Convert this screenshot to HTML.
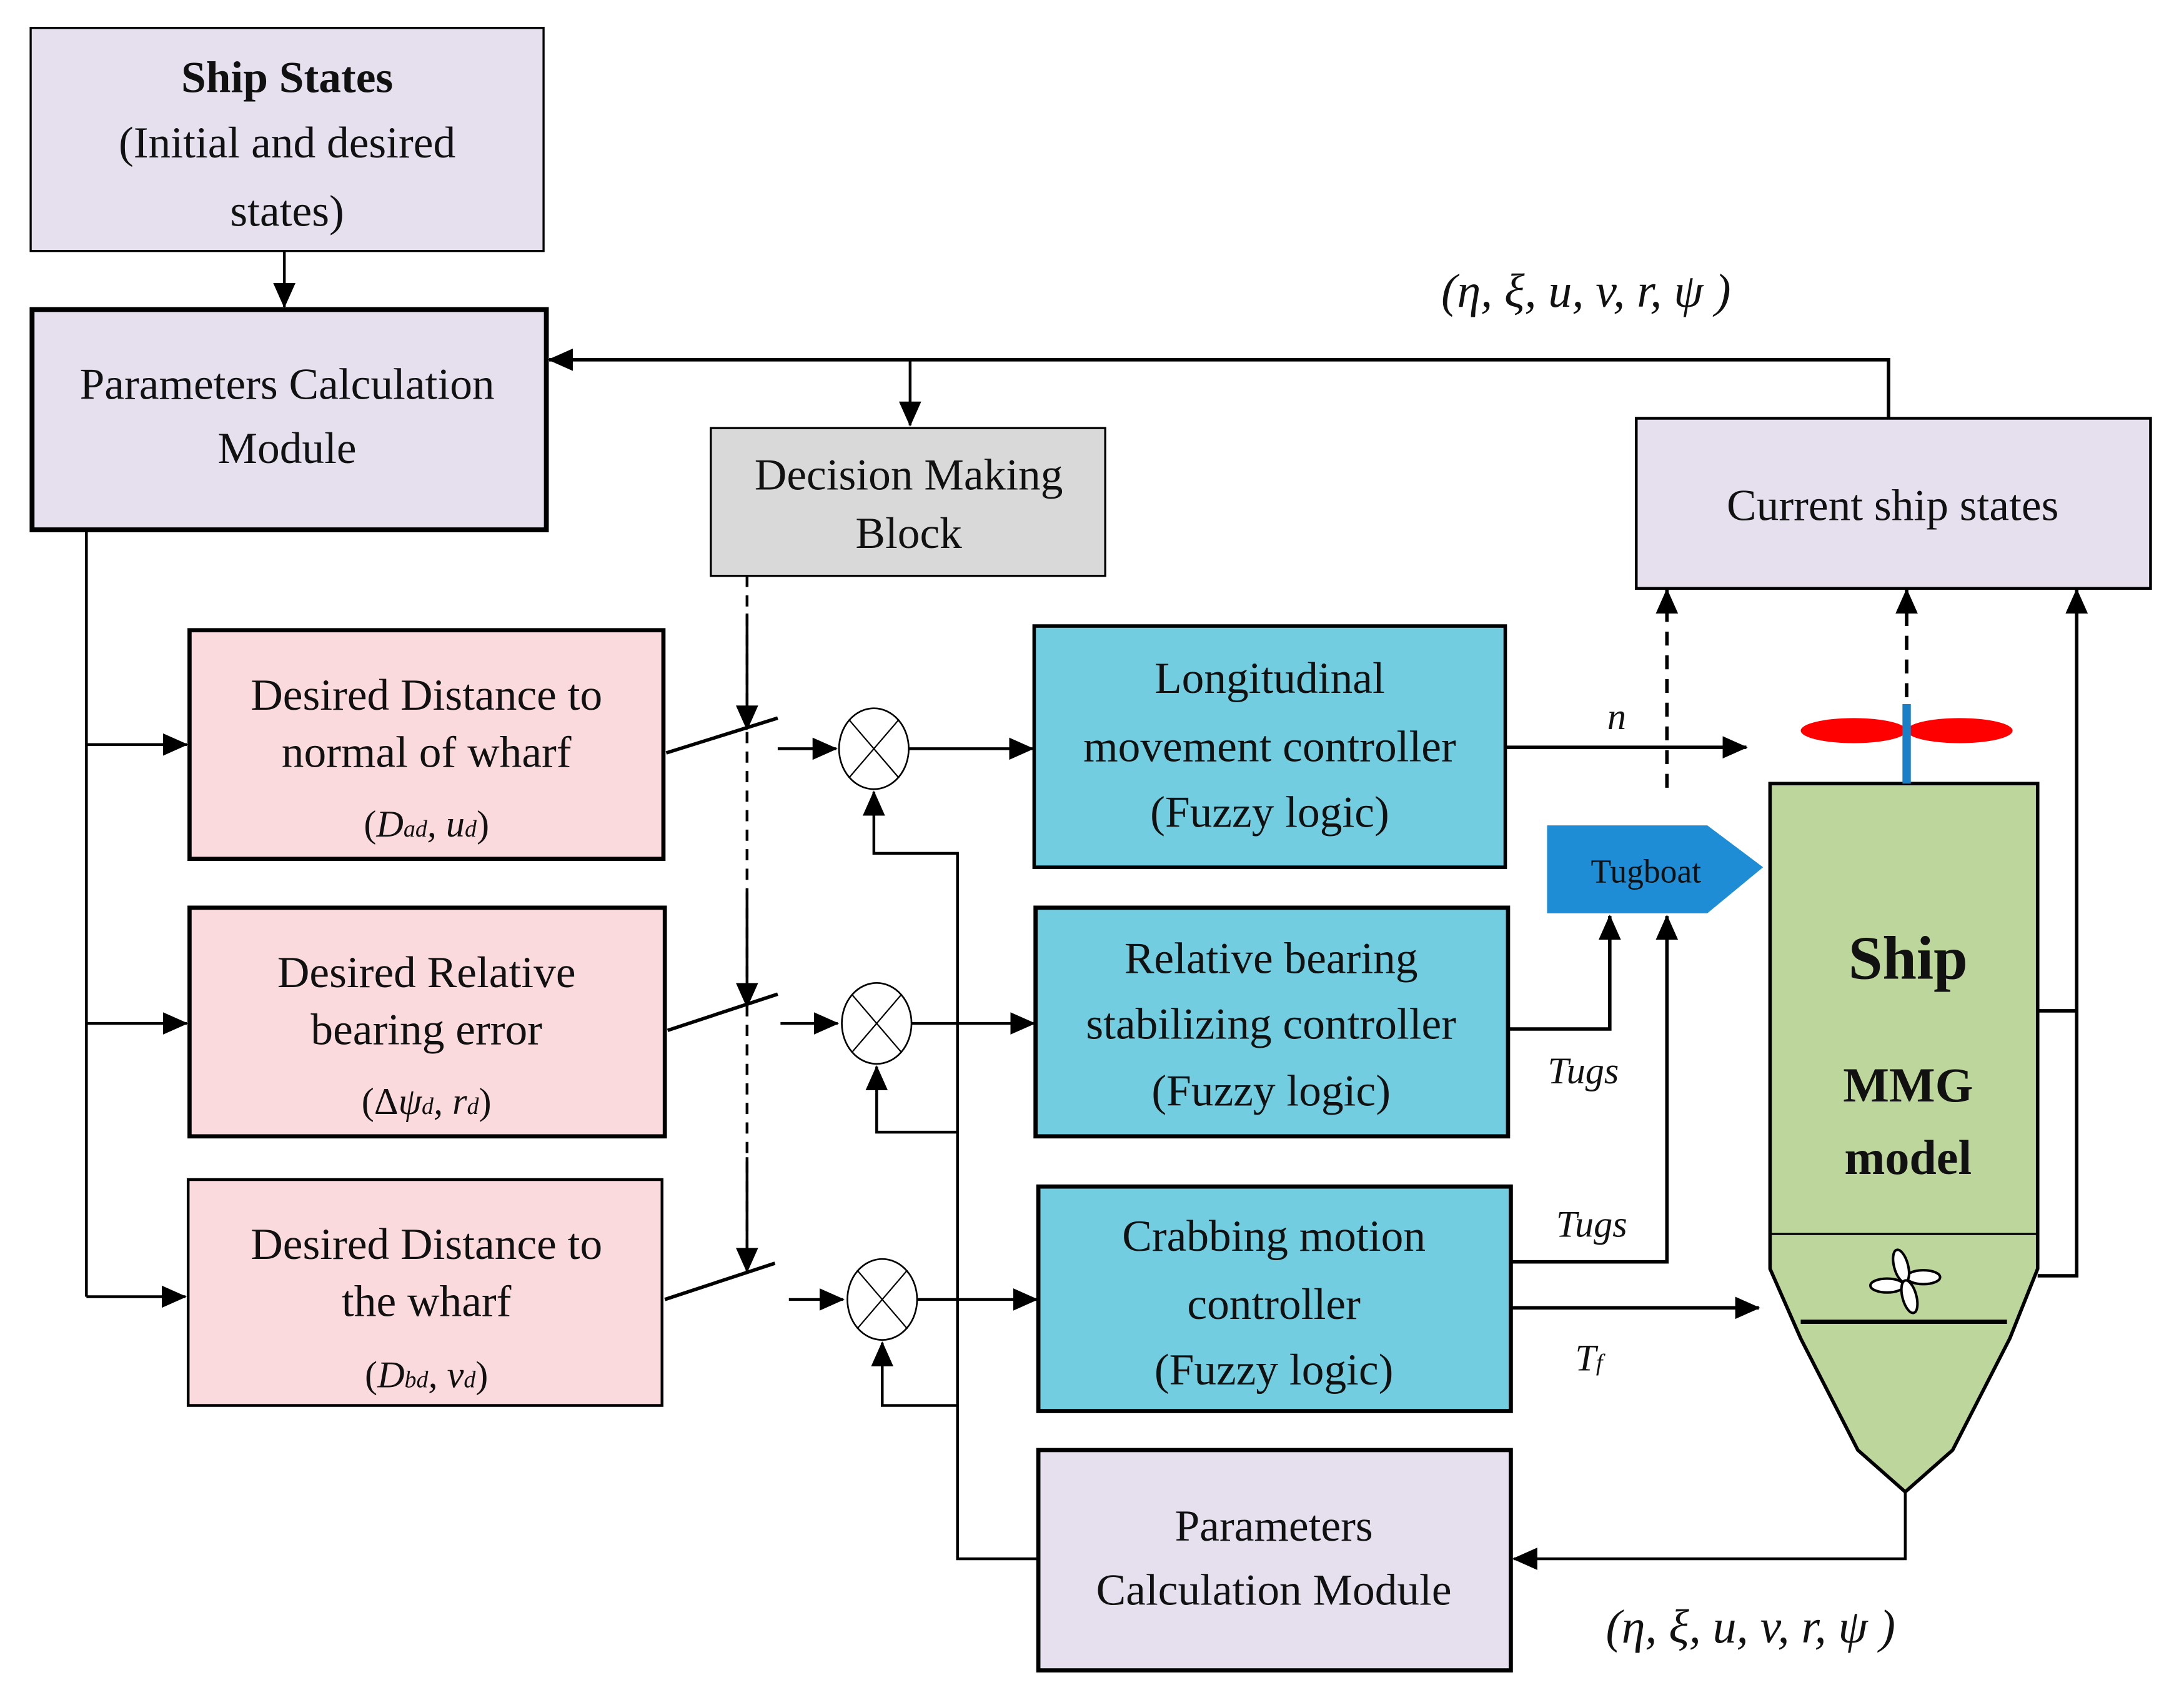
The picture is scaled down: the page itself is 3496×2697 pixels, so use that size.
<!DOCTYPE html>
<html><head><meta charset="utf-8"><style>
html,body{margin:0;padding:0;background:#fff}
svg{display:block}
text{font-family:"Liberation Serif","DejaVu Serif",serif;fill:#111}
</style></head><body>
<svg width="3496" height="2697" viewBox="0 0 1567 1208.5" preserveAspectRatio="none" xmlns="http://www.w3.org/2000/svg">
<defs>
<marker id="b" markerWidth="18" markerHeight="16" refX="17" refY="8" orient="auto" markerUnits="userSpaceOnUse" viewBox="0 0 18 16"><path d="M0,0 L18,8 L0,16 z" fill="#000"/></marker>
</defs>
<g stroke="#000" fill="none">
<rect x="22" y="20" width="368" height="160" fill="#e6e0ee" stroke-width="1.5"/>
<rect x="23" y="222" width="369" height="158" fill="#e6e0ee" stroke-width="3.5"/>
<rect x="510" y="307" width="283" height="106" fill="#d9d9d9" stroke-width="1.5"/>
<rect x="1174" y="300" width="369" height="122" fill="#e6e0ee" stroke-width="2"/>
<rect x="136" y="452" width="340" height="164" fill="#fadadd" stroke-width="3"/>
<rect x="136" y="651" width="341" height="164" fill="#fadadd" stroke-width="3"/>
<rect x="135" y="846" width="340" height="162" fill="#fadadd" stroke-width="2"/>
<rect x="742" y="449" width="338" height="173" fill="#72cde0" stroke-width="2.5"/>
<rect x="743" y="651" width="339" height="164" fill="#72cde0" stroke-width="3"/>
<rect x="745" y="851" width="339" height="161" fill="#72cde0" stroke-width="3"/>
<rect x="745" y="1040" width="339" height="158" fill="#e6e0ee" stroke-width="3"/>
<line x1="204" y1="180" x2="204" y2="220" stroke-width="2" marker-end="url(#b)"/>
<polyline points="1355,300 1355,258 394,258" stroke-width="2.5" marker-end="url(#b)"/>
<line x1="653" y1="258" x2="653" y2="305" stroke-width="2" marker-end="url(#b)"/>
<line x1="62" y1="380" x2="62" y2="930" stroke-width="2"/>
<line x1="62" y1="534" x2="134" y2="534" stroke-width="2" marker-end="url(#b)"/>
<line x1="62" y1="734" x2="134" y2="734" stroke-width="2" marker-end="url(#b)"/>
<line x1="62" y1="930" x2="133" y2="930" stroke-width="2" marker-end="url(#b)"/>
<line x1="478" y1="540" x2="558" y2="515" stroke-width="2.5"/>
<line x1="479" y1="739" x2="558" y2="713" stroke-width="2.5"/>
<line x1="477" y1="932" x2="556" y2="906" stroke-width="2.5"/>
<line x1="536" y1="413" x2="536" y2="905" stroke-width="2" stroke-dasharray="8,6"/>
<line x1="536" y1="440" x2="536" y2="523" stroke-width="2" marker-end="url(#b)"/>
<line x1="536" y1="640" x2="536" y2="722" stroke-width="2" marker-end="url(#b)"/>
<line x1="536" y1="830" x2="536" y2="912" stroke-width="2" marker-end="url(#b)"/>
<line x1="558" y1="537" x2="600" y2="537" stroke-width="2" marker-end="url(#b)"/>
<line x1="560" y1="734" x2="601" y2="734" stroke-width="2" marker-end="url(#b)"/>
<line x1="566" y1="932" x2="605" y2="932" stroke-width="2" marker-end="url(#b)"/>
<g stroke-width="1.2" fill="#fff">
<ellipse cx="627" cy="537" rx="25" ry="29"/>
<ellipse cx="629" cy="734" rx="25" ry="29"/>
<ellipse cx="633" cy="932" rx="25" ry="29"/>
</g>
<g stroke-width="1">
<path d="M609,516 L645,558 M645,516 L609,558"/>
<path d="M611,713 L647,755 M647,713 L611,755"/>
<path d="M615,911 L651,953 M651,911 L615,953"/>
</g>
<line x1="652" y1="537" x2="741" y2="537" stroke-width="2" marker-end="url(#b)"/>
<line x1="654" y1="734" x2="742" y2="734" stroke-width="2" marker-end="url(#b)"/>
<line x1="658" y1="932" x2="744" y2="932" stroke-width="2" marker-end="url(#b)"/>
<polyline points="745,1118 687,1118 687,612 627,612 627,568" stroke-width="2" marker-end="url(#b)"/>
<polyline points="687,812 629,812 629,765" stroke-width="2" marker-end="url(#b)"/>
<polyline points="687,1008 633,1008 633,963" stroke-width="2" marker-end="url(#b)"/>
<polyline points="1367,1070 1367,1118 1086,1118" stroke-width="2" marker-end="url(#b)"/>
<line x1="1080" y1="536" x2="1253" y2="536" stroke-width="2.5" marker-end="url(#b)"/>
<polyline points="1082,738 1155,738 1155,657" stroke-width="2.5" marker-end="url(#b)"/>
<polyline points="1084,905 1196,905 1196,657" stroke-width="2.5" marker-end="url(#b)"/>
<line x1="1084" y1="938" x2="1262" y2="938" stroke-width="2.5" marker-end="url(#b)"/>
<line x1="1196" y1="565" x2="1196" y2="430" stroke-width="2.5" stroke-dasharray="10,7"/>
<line x1="1196" y1="440" x2="1196" y2="423" stroke-width="2.5" marker-end="url(#b)"/>
<line x1="1368" y1="500" x2="1368" y2="430" stroke-width="2.5" stroke-dasharray="10,7"/>
<line x1="1368" y1="440" x2="1368" y2="423" stroke-width="2.5" marker-end="url(#b)"/>
<polyline points="1462,725 1490,725" stroke-width="2.5"/>
<polyline points="1462,915 1490,915 1490,423" stroke-width="2.5" marker-end="url(#b)"/>
<polygon points="1270,562 1462,562 1462,910 1442,960 1401,1040 1367,1070 1333,1040 1292,960 1270,910" fill="#bdd69b" stroke-width="2.5"/>
<line x1="1270" y1="885" x2="1462" y2="885" stroke-width="1.5"/>
<line x1="1292" y1="948" x2="1440" y2="948" stroke-width="3"/>
<g stroke-width="1.8" fill="#fff">
<ellipse cx="1354" cy="922" rx="12" ry="5"/>
<ellipse cx="1380" cy="916" rx="12" ry="5"/>
<ellipse cx="1364" cy="908" rx="5" ry="12" transform="rotate(-15 1364 908)"/>
<ellipse cx="1370" cy="930" rx="5" ry="12" transform="rotate(-15 1370 930)"/>
</g>
</g>
<ellipse cx="1330" cy="524" rx="38" ry="9" fill="#f00"/>
<ellipse cx="1406" cy="524" rx="38" ry="9" fill="#f00"/>
<rect x="1365" y="505" width="6" height="57" fill="#1a7fc4"/>
<polygon points="1110,592 1225,592 1265,622 1225,655 1110,655" fill="#1f8dd6"/>
<g font-size="32" text-anchor="middle">
<text x="206" y="66" font-weight="bold">Ship States</text>
<text x="206" y="113">(Initial and desired</text>
<text x="206" y="162">states)</text>
<text x="206" y="286">Parameters Calculation</text>
<text x="206" y="332">Module</text>
<text x="652" y="351">Decision Making</text>
<text x="652" y="393">Block</text>
<text x="1358" y="373">Current ship states</text>
<text x="306" y="509">Desired Distance to</text>
<text x="306" y="550">normal of wharf</text>
<text x="306" y="600" font-size="27">(<tspan font-style="italic">D<tspan font-size="17">ad</tspan>, u<tspan font-size="17">d</tspan></tspan>)</text>
<text x="306" y="708">Desired Relative</text>
<text x="306" y="749">bearing error</text>
<text x="306" y="799" font-size="27">(Δ<tspan font-style="italic">ψ<tspan font-size="17">d</tspan>, r<tspan font-size="17">d</tspan></tspan>)</text>
<text x="306" y="903">Desired Distance to</text>
<text x="306" y="944">the wharf</text>
<text x="306" y="995" font-size="27">(<tspan font-style="italic">D<tspan font-size="17">bd</tspan>, v<tspan font-size="17">d</tspan></tspan>)</text>
<text x="911" y="497">Longitudinal</text>
<text x="911" y="546">movement controller</text>
<text x="911" y="593">(Fuzzy logic)</text>
<text x="912" y="698">Relative bearing</text>
<text x="912" y="745">stabilizing controller</text>
<text x="912" y="793">(Fuzzy logic)</text>
<text x="914" y="897">Crabbing motion</text>
<text x="914" y="946">controller</text>
<text x="914" y="993">(Fuzzy logic)</text>
<text x="914" y="1105">Parameters</text>
<text x="914" y="1151">Calculation Module</text>
<text x="1138" y="220" font-style="italic" font-size="34">(η, ξ, u, v, r, ψ )</text>
<text x="1256" y="1178" font-style="italic" font-size="34">(η, ξ, u, v, r, ψ )</text>
<text x="1160" y="523" font-style="italic" font-size="27">n</text>
<text x="1136" y="777" font-style="italic" font-size="27">Tugs</text>
<text x="1142" y="887" font-style="italic" font-size="27">Tugs</text>
<text x="1140" y="983" font-style="italic" font-size="27">T<tspan font-size="17">f</tspan></text>
<text x="1181" y="633" font-size="24">Tugboat</text>
<text x="1369" y="702" font-size="44" font-weight="bold">Ship</text>
<text x="1369" y="790" font-size="35" font-weight="bold">MMG</text>
<text x="1369" y="842" font-size="35" font-weight="bold">model</text>
</g>
</svg>
</body></html>
